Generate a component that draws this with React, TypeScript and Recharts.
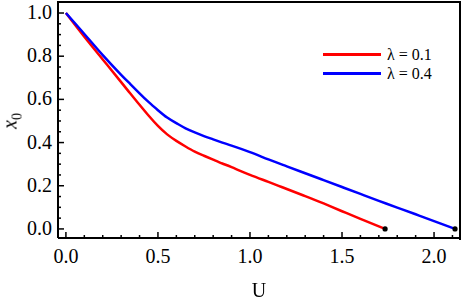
import { Legend, Line, LineChart, XAxis, YAxis } from "recharts";

// lambda = 0.1
const uRed = [0, 0.1, 0.2, 0.3, 0.35, 0.4, 0.45, 0.5, 0.55, 0.6, 0.65, 0.7, 0.75, 0.8, 0.85, 0.9, 1.0, 1.1, 1.2, 1.3, 1.4, 1.5, 1.6, 1.7, 1.734];
const x0Red = [1.0, 0.89, 0.785, 0.68, 0.627, 0.575, 0.524, 0.477, 0.438, 0.408, 0.382, 0.358, 0.339, 0.321, 0.303, 0.286, 0.25, 0.218, 0.185, 0.152, 0.118, 0.082, 0.047, 0.012, 0];

// lambda = 0.4
const uBlue = [0, 0.1, 0.2, 0.3, 0.35, 0.4, 0.45, 0.5, 0.55, 0.6, 0.65, 0.7, 0.75, 0.8, 0.85, 0.9, 1.0, 1.1, 1.2, 1.3, 1.4, 1.5, 1.6, 1.7, 1.8, 1.9, 2.0, 2.114];
const x0Blue = [1.0, 0.903, 0.805, 0.714, 0.671, 0.628, 0.587, 0.55, 0.516, 0.49, 0.466, 0.447, 0.43, 0.415, 0.4, 0.386, 0.356, 0.322, 0.29, 0.258, 0.226, 0.194, 0.162, 0.13, 0.099, 0.068, 0.036, 0];

const xTicks = [0, 0.1, 0.2, 0.3, 0.4, 0.5, 0.6, 0.7, 0.8, 0.9, 1.0, 1.1, 1.2, 1.3, 1.4, 1.5, 1.6, 1.7, 1.8, 1.9, 2.0, 2.1];
const yTicks = [0, 0.05, 0.1, 0.15, 0.2, 0.25, 0.3, 0.35, 0.4, 0.45, 0.5, 0.55, 0.6, 0.65, 0.7, 0.75, 0.8, 0.85, 0.9, 0.95, 1.0];

const seriesNames = ["λ = 0.1", "λ = 0.4"];
const seriesColors = ["#ff0000", "#0000ff"];

const redData = uRed.map((u, i) => ({ u, x0: x0Red[i] }));
const blueData = uBlue.map((u, i) => ({ u, x0: x0Blue[i] }));

const FONT = "'Liberation Serif', 'Times New Roman', Times, serif";

const isMultiple = (v: number, step: number) => Math.abs(v / step - Math.round(v / step)) < 1e-6;

function XTick(props: any) {
  const { x, y, payload } = props;
  const major = isMultiple(payload.value, 0.5);
  return (
    <g>
      <line x1={x} x2={x} y1={y} y2={y - (major ? 6 : 3)} stroke="#000" strokeWidth={1.5} />
      {major ? (
        <text x={x} y={y + 25} textAnchor="middle" fontFamily={FONT} fontSize={20} fill="#000">
          {payload.value.toFixed(1)}
        </text>
      ) : null}
    </g>
  );
}

function YTick(props: any) {
  const { x, y, payload } = props;
  const major = isMultiple(payload.value, 0.2);
  return (
    <g>
      <line x1={x} x2={x + (major ? 6 : 3)} y1={y} y2={y} stroke="#000" strokeWidth={1.5} />
      {major ? (
        <text x={x - 6} y={y + 6} textAnchor="end" fontFamily={FONT} fontSize={20} fill="#000">
          {payload.value.toFixed(1)}
        </text>
      ) : null}
    </g>
  );
}

function endDot(last: number) {
  return (p: any) =>
    p.index === last ? (
      <circle key={`d${p.index}`} cx={p.cx} cy={p.cy} r={2.6} fill="#000" />
    ) : (
      <g key={`d${p.index}`} />
    );
}

function LegendBox() {
  return (
    <div style={{ fontFamily: FONT, fontSize: 16, lineHeight: "19px", color: "#000" }}>
      {seriesNames.map((name, i) => (
        <div key={name} style={{ display: "flex", alignItems: "center" }}>
          <span style={{ display: "inline-block", width: 58, height: 2.5, background: seriesColors[i], marginRight: 6 }} />
          <span>{name}</span>
        </div>
      ))}
    </div>
  );
}

export default function App() {
  return (
    <div style={{ position: "fixed", left: 0, top: 0, width: 463, height: 300, background: "#fff", fontFamily: FONT }}>
      <LineChart width={463} height={300} margin={{ top: 2, right: 3, left: 0, bottom: 0 }} style={{ fontFamily: FONT }}>
        <XAxis
          type="number"
          dataKey="u"
          domain={[-0.043, 2.141]}
          allowDataOverflow
          ticks={xTicks}
          interval={0}
          height={62}
          tickSize={0}
          tickMargin={0}
          tickLine={false}
          tick={XTick}
          axisLine={{ stroke: "#000", strokeWidth: 2 }}
        />
        <YAxis
          type="number"
          domain={[-0.042, 1.051]}
          allowDataOverflow
          ticks={yTicks}
          interval={0}
          width={58}
          tickSize={0}
          tickMargin={0}
          tickLine={false}
          tick={YTick}
          axisLine={{ stroke: "#000", strokeWidth: 2 }}
        />
        <Legend
          layout="horizontal"
          verticalAlign="middle"
          align="center"
          content={<LegendBox />}
          wrapperStyle={{ position: "absolute", left: 323, top: 45, width: 130 }}
        />
        <Line
          data={redData}
          dataKey="x0"
          name={seriesNames[0]}
          type="natural"
          stroke={seriesColors[0]}
          strokeWidth={2.5}
          dot={endDot(redData.length - 1)}
          activeDot={false}
          isAnimationActive={false}
        />
        <Line
          data={blueData}
          dataKey="x0"
          name={seriesNames[1]}
          type="natural"
          stroke={seriesColors[1]}
          strokeWidth={2.5}
          dot={endDot(blueData.length - 1)}
          activeDot={false}
          isAnimationActive={false}
        />
      </LineChart>
      {/* top and right sides of the frame */}
      <div
        style={{
          position: "absolute",
          left: 57,
          top: 1,
          width: 402,
          height: 237,
          borderTop: "2px solid #000",
          borderRight: "2px solid #000",
          pointerEvents: "none",
        }}
      />
      <div
        style={{
          position: "absolute",
          left: 259,
          top: 290,
          transform: "translate(-50%, -50%)",
          fontSize: 20,
          lineHeight: 1,
        }}
      >
        U
      </div>
      <div
        style={{
          position: "absolute",
          left: 12,
          top: 121,
          transform: "translate(-50%, -50%) rotate(-90deg)",
          fontSize: 20,
          lineHeight: 1,
          whiteSpace: "nowrap",
        }}
      >
        <i>x</i>
        <sub style={{ fontSize: 14, lineHeight: 1 }}>0</sub>
      </div>
    </div>
  );
}
